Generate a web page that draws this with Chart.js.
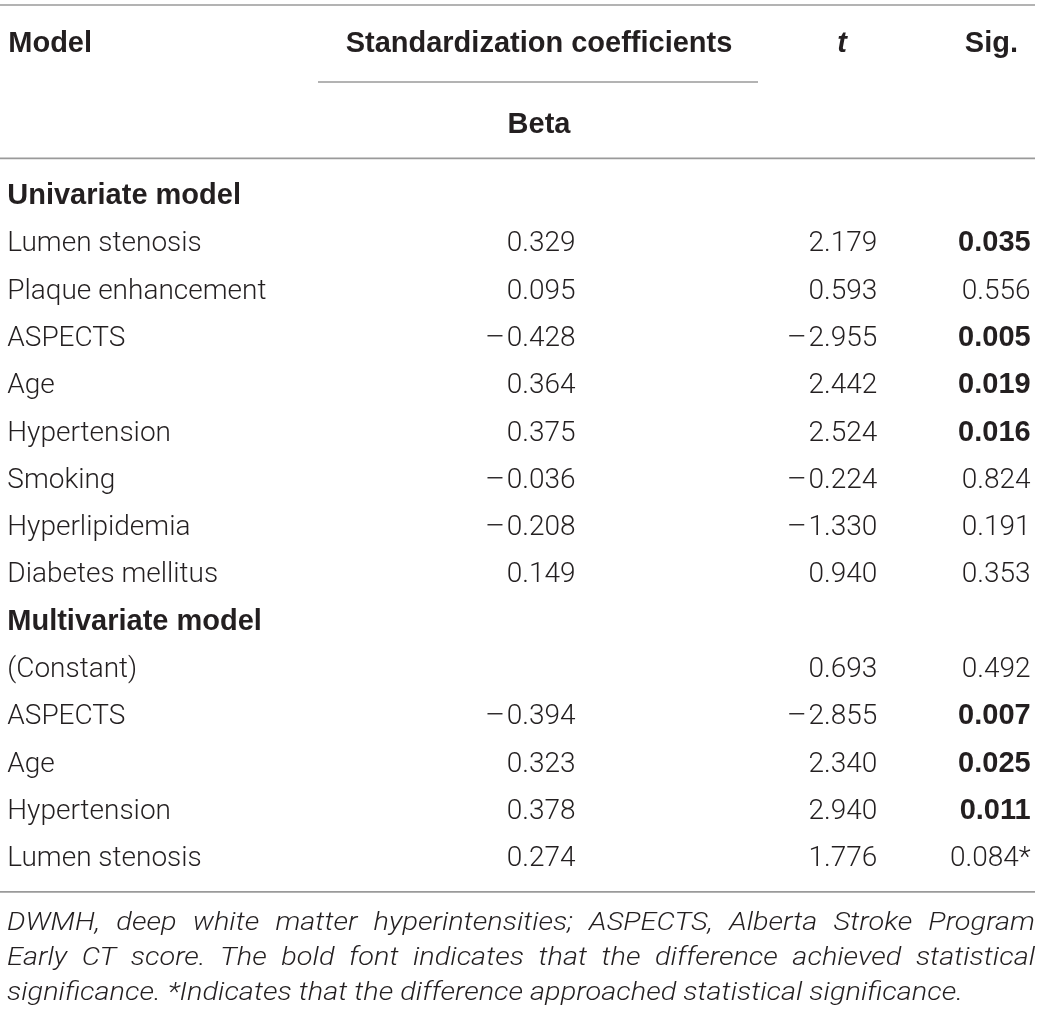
<!DOCTYPE html>
<html>
<head>
<meta charset="utf-8">
<script src="https://cdn.jsdelivr.net/npm/chart.js@4.4.1/dist/chart.umd.min.js"></script>
<style>
html,body{margin:0;padding:0;background:#ffffff;}
#wrap{position:relative;width:1040px;height:1015px;}
canvas{display:block;}
</style>
</head>
<body>
<div id="wrap"><canvas id="c" width="1040" height="1015"></canvas></div>
<script>
// ---------------- data ----------------
const rowLabels = [
  "Univariate model",
  "Lumen stenosis",
  "Plaque enhancement",
  "ASPECTS",
  "Age",
  "Hypertension",
  "Smoking",
  "Hyperlipidemia",
  "Diabetes mellitus",
  "Multivariate model",
  "(Constant)",
  "ASPECTS ",
  "Age ",
  "Hypertension ",
  "Lumen stenosis "
];
const sectionRows = ["Univariate model", "Multivariate model"];
const betaValues = [null, 0.329, 0.095, -0.428, 0.364, 0.375, -0.036, -0.208, 0.149, null, null, -0.394, 0.323, 0.378, 0.274];
const tValues    = [null, 2.179, 0.593, -2.955, 2.442, 2.524, -0.224, -1.330, 0.940, null, 0.693, -2.855, 2.340, 2.940, 1.776];
const sigValues  = [null, 0.035, 0.556, 0.005, 0.019, 0.016, 0.824, 0.191, 0.353, null, 0.492, 0.007, 0.025, 0.011, 0.084];
const headerTop = ["Model", "Standardization coefficients", "t", "Sig."];
const headerSub = ["Beta"];
const footnoteLines = [
  "DWMH, deep white matter hyperintensities; ASPECTS, Alberta Stroke Program",
  "Early CT score. The bold font indicates that the difference achieved statistical",
  "significance. *Indicates that the difference approached statistical significance."
];

// ---------------- layout (styles / positions) ----------------
const colX = { label: 0.7, beta: 55.35, t: 84.35, sig: 99.1 }; // percent of width (x scale 0..100)
const TEXT = "#231f20";
const RULE = "#9a9a9a";
const FONT_LIGHT = "300 28px Roboto, 'Liberation Sans', sans-serif";
const FONT_BOLD = "bold 29px 'Liberation Sans', Arial, sans-serif";
const FONT_BOLD_IT = "italic bold 29px 'Liberation Sans', Arial, sans-serif";
const FONT_FOOT = "italic 300 26px Roboto, 'Liberation Sans', sans-serif";

const tablePlugin = {
  id: "tablePlugin",
  afterDatasetsDraw(chart) {
    const ctx = chart.ctx;
    const xs = chart.scales.x, ys = chart.scales.y;
    const rowH = ys.getPixelForValue(1) - ys.getPixelForValue(0);
    const top = ys.getPixelForValue(0) - rowH / 2;
    const bottom = ys.getPixelForValue(rowLabels.length - 1) + rowH / 2;
    const ruleRight = 1035;
    ctx.save();
    ctx.fillStyle = TEXT;
    ctx.textBaseline = "alphabetic";

    // rules
    ctx.strokeStyle = RULE;
    ctx.lineWidth = 1.6;
    const hline = (x0, x1, y) => { ctx.beginPath(); ctx.moveTo(x0, y); ctx.lineTo(x1, y); ctx.stroke(); };
    hline(0, ruleRight, 5);
    hline(318, 758, 82);
    hline(0, ruleRight, top - 12);
    hline(0, ruleRight, bottom + 12);

    // header
    ctx.font = FONT_BOLD;
    ctx.textAlign = "left";
    ctx.fillText(headerTop[0], xs.getPixelForValue(colX.label) + 1, 52);
    ctx.textAlign = "center";
    ctx.fillText(headerTop[1], 539, 52);
    ctx.font = FONT_BOLD_IT;
    ctx.fillText(headerTop[2], 842, 52);
    ctx.font = FONT_BOLD;
    ctx.textAlign = "right";
    ctx.fillText(headerTop[3], 1018, 52);
    ctx.textAlign = "center";
    ctx.fillText(headerSub[0], 539, 133);

    // row labels
    rowLabels.forEach((lab, i) => {
      const y = ys.getPixelForValue(i) + 10;
      ctx.textAlign = "left";
      ctx.font = sectionRows.includes(lab) ? FONT_BOLD : FONT_LIGHT;
      ctx.fillText(lab.trim(), xs.getPixelForValue(colX.label), y);
    });

    // value cells, positioned by their dataset elements
    chart.data.datasets.forEach((ds, di) => {
      const meta = chart.getDatasetMeta(di);
      meta.data.forEach((el, i) => {
        const raw = ds.data[i];
        if (!raw || raw.v === null) return;
        let txt = Math.abs(raw.v).toFixed(3);
        let font = FONT_LIGHT;
        if (ds.label === "Sig.") {
          if (raw.v < 0.05) font = FONT_BOLD;
          else if (raw.v < 0.1) txt += "*";
        }
        ctx.font = font;
        ctx.textAlign = "right";
        const y = el.y + 10;
        ctx.fillText(txt, el.x, y);
        if (raw.v < 0) {
          // typographic minus, widened to match the reference
          const numW = ctx.measureText(txt).width;
          const m = ctx.measureText("\u2212").width;
          const s = 21 / m;
          ctx.save();
          ctx.translate(el.x - numW - 1, y);
          ctx.scale(s, 1);
          ctx.textAlign = "right";
          ctx.fillText("\u2212", 0, 0);
          ctx.restore();
        }
      });
    });

    // footnote (justified)
    ctx.font = FONT_FOOT;
    ctx.textAlign = "left";
    const x0 = 7;
    const lastW = ctx.measureText(footnoteLines[footnoteLines.length - 1]).width;
    const sx = 956 / lastW;
    const fullW = (1035 - x0) / sx;
    footnoteLines.forEach((line, li) => {
      const y = bottom + 50 + li * 35;
      ctx.save();
      ctx.translate(x0, y);
      ctx.scale(sx, 1);
      if (li === footnoteLines.length - 1) {
        ctx.fillText(line, 0, 0);
      } else {
        const ws = line.split(" ");
        const wordsW = ws.reduce((s, w) => s + ctx.measureText(w).width, 0);
        const gap = (fullW - wordsW) / (ws.length - 1);
        let x = 0;
        ws.forEach(w => { ctx.fillText(w, x, 0); x += ctx.measureText(w).width + gap; });
      }
      ctx.restore();
    });
    ctx.restore();
  }
};

function cells(values, col) {
  return values.map((v, i) => ({ x: colX[col], y: rowLabels[i], v: v }));
}

function build() {
  new Chart(document.getElementById("c"), {
    type: "scatter",
    data: {
      labels: rowLabels,
      datasets: [
        { label: "Beta", data: cells(betaValues, "beta"), pointRadius: 0, pointHoverRadius: 0 },
        { label: "t", data: cells(tValues, "t"), pointRadius: 0, pointHoverRadius: 0 },
        { label: "Sig.", data: cells(sigValues, "sig"), pointRadius: 0, pointHoverRadius: 0 }
      ]
    },
    options: {
      responsive: false,
      animation: false,
      events: [],
      layout: { padding: { top: 170.35, bottom: 135.15, left: 0, right: 0 } },
      plugins: { legend: { display: false }, tooltip: { enabled: false } },
      scales: {
        x: { type: "linear", min: 0, max: 100, display: false },
        y: { type: "category", labels: rowLabels, offset: true, display: false }
      }
    },
    plugins: [tablePlugin]
  });
}
if (document.fonts && document.fonts.load) {
  Promise.all([
    document.fonts.load("300 28px Roboto"),
    document.fonts.load("italic 300 26px Roboto"),
    document.fonts.load("bold 29px 'Liberation Sans'")
  ]).then(build, build);
} else build();
</script>
</body>
</html>
